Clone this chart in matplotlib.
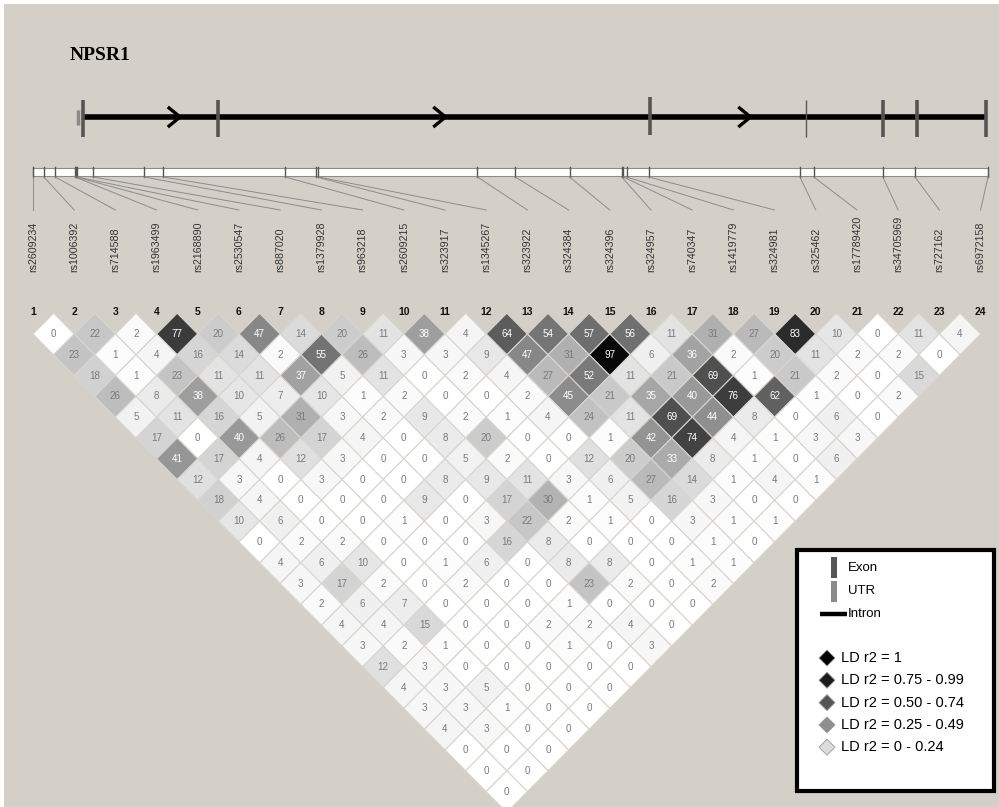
import matplotlib.pyplot as plt
from matplotlib.patches import Polygon, Rectangle

plt.rcParams['font.family'] = ['Liberation Sans', 'DejaVu Sans']

# SNP names, in order along the gene
snp_ids = ["rs2609234", "rs1006392", "rs714588", "rs1963499", "rs2168890",
           "rs2530547", "rs887020", "rs1379928", "rs963218", "rs2609215",
           "rs323917", "rs1345267", "rs323922", "rs324384", "rs324396",
           "rs324957", "rs740347", "rs1419779", "rs324981", "rs325462",
           "rs17789420", "rs34705969", "rs727162", "rs6972158"]

# physical positions of the markers (kb from first marker)
snp_pos_kb = [0.0, 2.5, 5.1, 9.7, 9.9, 10.1, 13.8, 25.6, 30.0, 58.1, 65.2,
              65.7, 102.3, 111.0, 123.5, 135.5, 135.9, 136.6, 141.7, 176.5,
              179.7, 195.6, 203.0, 219.8]

# gene model (kb)
gene_start_kb = 11.5
gene_end_kb = 219.3
exon_kb = [11.5, 42.6, 141.9, 177.9, 195.6, 203.4, 219.3]
utr_kb = [10.4]
arrow_kb = [32.7, 93.8, 164.0]

# r2 x 100, one list per marker distance (1 = neighbours, 2 = one apart ...)
r2_by_distance = [
    [0, 22, 2, 77, 20, 47, 14, 20, 11, 38, 4, 64, 54, 57, 56, 11, 31, 27, 83,
     10, 0, 11, 4],
    [23, 1, 4, 16, 14, 2, 55, 26, 3, 3, 9, 47, 31, 97, 6, 36, 2, 20, 11, 2, 2,
     0],
    [18, 1, 23, 11, 11, 37, 5, 11, 0, 2, 4, 27, 52, 11, 21, 69, 1, 21, 2, 0,
     15],
    [26, 8, 38, 10, 7, 10, 1, 2, 0, 0, 2, 45, 21, 35, 40, 76, 62, 1, 0, 2],
    [5, 11, 16, 5, 31, 3, 2, 9, 2, 1, 4, 24, 11, 69, 44, 8, 0, 6, 0],
    [17, 0, 40, 26, 17, 4, 0, 8, 20, 0, 0, 1, 42, 74, 4, 1, 3, 3],
    [41, 17, 4, 12, 3, 0, 0, 5, 2, 0, 12, 20, 33, 8, 1, 0, 6],
    [12, 3, 0, 3, 0, 0, 8, 9, 11, 3, 6, 27, 14, 1, 4, 1],
    [18, 4, 0, 0, 0, 9, 0, 17, 30, 1, 5, 16, 3, 0, 0],
    [10, 6, 0, 0, 1, 0, 3, 22, 2, 1, 0, 3, 1, 1],
    [0, 2, 2, 0, 0, 0, 16, 8, 0, 0, 0, 1, 0],
    [4, 6, 10, 0, 1, 6, 0, 8, 8, 0, 1, 1],
    [3, 17, 2, 0, 2, 0, 0, 23, 2, 0, 2],
    [2, 6, 7, 0, 0, 0, 1, 0, 0, 0],
    [4, 4, 15, 0, 0, 2, 2, 4, 0],
    [3, 2, 1, 0, 0, 1, 0, 3],
    [12, 3, 0, 0, 0, 0, 0],
    [4, 3, 5, 0, 0, 0],
    [3, 3, 1, 0, 0],
    [4, 3, 0, 0],
    [0, 0, 0],
    [0, 0],
    [0],
]

legend_labels = ["LD r2 = 1", "LD r2 = 0.75 - 0.99", "LD r2 = 0.50 - 0.74",
                 "LD r2 = 0.25 - 0.49", "LD r2 = 0 - 0.24"]
legend_greys = ["#000000", "#1c1c1c", "#555555", "#8f8f8f", "#dcdcdc"]

BG = "#d4d0c8"


def kb_to_x(kb):
    """map kb to pixel x on the marker bar"""
    return 33 + kb * 955.0 / 219.8


def main() -> None:
    """draws the LD plot"""
    fig = plt.figure(figsize=(9.99, 8.07), dpi=100)
    fig.patch.set_facecolor("white")
    ax = fig.add_axes([0, 0, 1, 1])
    ax.set_xlim(0, 999)
    ax.set_ylim(807, 0)
    ax.axis("off")
    ax.add_patch(Rectangle((4, 4), 995, 803, facecolor=BG,
                           edgecolor="none"))

    # gene name and structure
    ax.text(70, 55, "NPSR1", fontsize=14, fontweight="bold",
            family="Liberation Serif", ha="left", va="center")
    gy = 117
    ax.plot([kb_to_x(gene_start_kb), kb_to_x(gene_end_kb)], [gy, gy],
            color="black", lw=4.0, solid_capstyle="butt", zorder=2)
    for k in utr_kb:
        ax.plot([kb_to_x(k), kb_to_x(k)], [gy - 7, gy + 8], color="#8a8a8a",
                lw=2.5, solid_capstyle="butt", zorder=3)
    for n, k in enumerate(exon_kb):
        top, bot = gy - 17, gy + 20
        lw = 2.6
        if n == 2:
            top, bot = gy - 20, gy + 18
        if n == 3:
            lw = 1.0
        ax.plot([kb_to_x(k), kb_to_x(k)], [top, bot], color="#555555",
                lw=lw, solid_capstyle="butt", zorder=3)
    for k in arrow_kb:
        ax_x = kb_to_x(k)
        ax.plot([ax_x - 6, ax_x + 5, ax_x - 6], [gy - 9, gy, gy + 9],
                color="black", lw=2.4, zorder=4)

    # marker position bar
    ax.add_patch(Rectangle((33, 168), 955, 8, facecolor="white",
                           edgecolor="#8c8c8c", lw=0.8))
    x_first, x_step = 33, 41.2
    for i, k in enumerate(snp_pos_kb):
        px = kb_to_x(k)
        lx = x_first + i * x_step
        ax.plot([px, px], [167, 177], color="#555555", lw=1.0)
        ax.plot([px, lx], [177, 210], color="#8c8c8c", lw=0.7)
        ax.text(lx, 272, snp_ids[i], rotation=90, ha="center", va="bottom",
                fontsize=7.7, color="#333333")
        ax.text(lx, 312, str(i + 1), ha="center", va="center",
                fontsize=7.5, fontweight="bold", color="#111111")

    # LD triangle
    y_first, y_step = 334, 20.8
    hw, hh = x_step / 2, y_step
    for d, row in enumerate(r2_by_distance, start=1):
        for i, val in enumerate(row):
            cx = x_first + i * x_step + d * x_step / 2
            cy = y_first + (d - 1) * y_step
            g = 1 - val / 100.0
            ax.add_patch(Polygon([(cx - hw, cy), (cx, cy - hh),
                                  (cx + hw, cy), (cx, cy + hh)],
                                 closed=True, facecolor=(g, g, g),
                                 edgecolor="#d9d5cc", lw=0.8))
            tc = "white" if val > 31 else "#7a7a7a"
            ax.text(cx, cy, str(val), ha="center", va="center",
                    fontsize=7.1, color=tc)

    # legend
    ax.add_patch(Rectangle((797, 550), 197, 241, facecolor="white",
                           edgecolor="black", lw=3, zorder=5))
    ax.add_patch(Rectangle((831, 557), 6, 21, facecolor="#555555",
                           edgecolor="none", zorder=6))
    ax.add_patch(Rectangle((831, 581), 6, 21, facecolor="#8a8a8a",
                           edgecolor="none", zorder=6))
    ax.plot([820, 847], [614, 614], color="black", lw=3.2,
            solid_capstyle="butt", zorder=6)
    ax.text(848, 568, "Exon", fontsize=9.5, va="center", zorder=6)
    ax.text(848, 591, "UTR", fontsize=9.5, va="center", zorder=6)
    ax.text(848, 614, "Intron", fontsize=9.5, va="center", zorder=6)
    for n, (lab, col) in enumerate(zip(legend_labels, legend_greys)):
        y = 658 + n * 22.3
        ax.add_patch(Polygon([(819, y), (827, y - 8), (835, y), (827, y + 8)],
                             closed=True, facecolor=col,
                             edgecolor="#9a9a9a", lw=0.6, zorder=6))
        ax.text(841, y, lab, fontsize=10.5, va="center", zorder=6)

    fig.savefig("out.png", dpi=100, facecolor=fig.get_facecolor())


if __name__ == "__main__":
    main()
